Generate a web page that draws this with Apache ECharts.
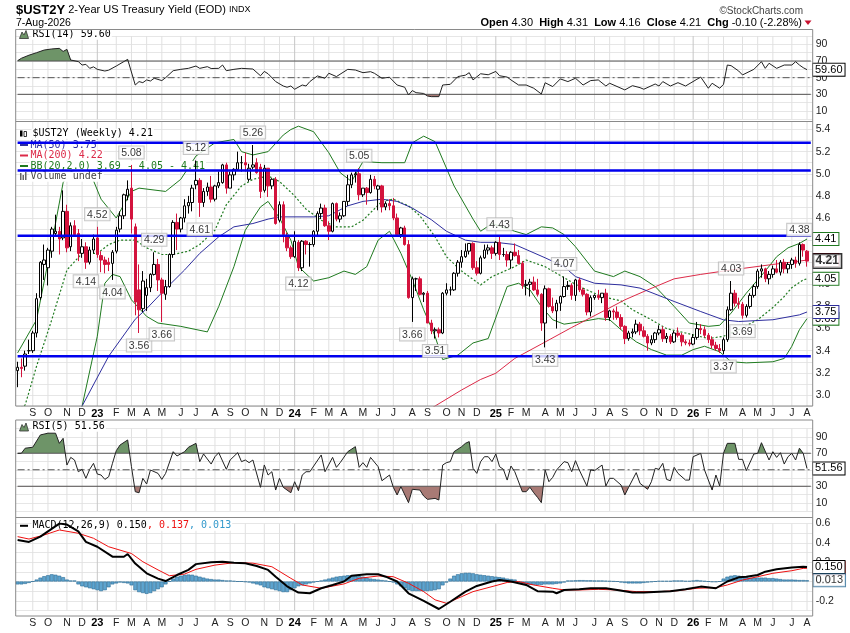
<!DOCTYPE html>
<html><head><meta charset="utf-8">
<script src="https://cdn.jsdelivr.net/npm/echarts@6/dist/echarts.min.js"></script>
<style>html,body{margin:0;padding:0;background:#fff}#c{width:850px;height:633px}</style>
</head><body><div id="c"></div>
<script>
// ---------- DATA ----------
const monthLetters = ['J','F','M','A','M','J','J','A','S','O','N','D'];
// weekly bars [open, high, low, close]
const ohlc2022 = [
[3.22,3.30,3.07,3.25],[3.25,3.33,3.16,3.24],[3.26,3.40,3.22,3.37],[3.40,3.50,3.37,3.40],[3.40,3.58,3.38,3.56],
[3.56,3.92,3.52,3.87],[3.88,4.21,3.86,4.20],[4.18,4.36,4.04,4.22],[4.15,4.33,3.99,4.31],[4.30,4.52,4.24,4.50],
[4.46,4.63,4.43,4.48],[4.48,4.52,4.27,4.41],[4.42,4.85,4.40,4.66],[4.66,4.72,4.29,4.33],[4.34,4.56,4.30,4.53],
[4.53,4.58,4.44,4.45],[4.46,4.50,4.21,4.28],[4.28,4.41,4.24,4.34],[4.34,4.38,4.14,4.20],[4.20,4.34,4.18,4.31],
[4.31,4.45,4.28,4.41]];
const ohlc2023 = [
[4.42,4.52,4.24,4.27],[4.26,4.30,4.11,4.22],[4.22,4.25,4.10,4.18],[4.20,4.24,4.12,4.18],[4.19,4.31,4.04,4.29],
[4.30,4.52,4.28,4.49],[4.50,4.66,4.47,4.62],[4.62,4.82,4.59,4.81],[4.80,4.94,4.76,4.86],[4.87,5.08,4.46,4.59],
[4.52,4.55,3.72,3.84],[3.95,4.18,3.56,3.77],[3.78,4.12,3.75,4.03],[3.90,4.05,3.76,3.97],[3.97,4.10,3.93,4.09],
[4.09,4.29,4.08,4.18],[4.18,4.23,3.94,4.04],[4.04,4.06,3.66,3.92],[3.91,4.04,3.86,3.98],[3.98,4.28,3.97,4.27],
[4.27,4.58,4.24,4.56],[4.56,4.64,4.31,4.50],[4.50,4.61,4.47,4.60],[4.60,4.77,4.56,4.71],[4.71,4.80,4.64,4.74],
[4.74,4.90,4.66,4.87],[4.90,5.12,4.86,4.94],[4.94,4.96,4.61,4.74],[4.74,4.87,4.70,4.84],[4.84,4.92,4.80,4.88],
[4.88,4.98,4.74,4.77],[4.77,4.90,4.75,4.89],[4.89,5.02,4.87,4.92],[4.92,5.09,4.91,5.08],[5.08,5.10,4.82,4.87],
[4.87,5.02,4.87,4.99],[4.99,5.05,4.94,5.04],[5.04,5.20,5.03,5.10],[5.10,5.16,5.02,5.10],[5.10,5.19,5.02,5.08],
[4.95,5.09,4.93,5.05],[5.06,5.26,5.04,5.08],[5.10,5.14,5.00,5.01],[5.06,5.09,4.78,4.84],[4.85,5.08,4.83,5.05],
[5.05,5.05,4.79,4.89],[4.89,4.96,4.86,4.95],[4.95,4.97,4.54,4.55],[4.58,4.75,4.56,4.72],[4.72,4.75,4.38,4.45],
[4.44,4.47,4.30,4.33],[4.33,4.35,4.23,4.25]];
const ohlc2024 = [
[4.25,4.48,4.24,4.39],[4.38,4.40,4.12,4.15],[4.15,4.40,4.12,4.39],[4.39,4.40,4.27,4.36],[4.36,4.38,4.16,4.36],
[4.36,4.49,4.34,4.48],[4.48,4.66,4.44,4.64],[4.64,4.73,4.59,4.69],[4.69,4.72,4.52,4.53],[4.53,4.57,4.40,4.48],
[4.48,4.74,4.47,4.73],[4.73,4.74,4.57,4.59],[4.59,4.65,4.56,4.62],[4.62,4.75,4.61,4.75],[4.75,4.99,4.71,4.90],
[4.90,5.01,4.87,4.99],[4.99,5.02,4.92,5.00],[5.00,5.05,4.76,4.81],[4.81,4.87,4.79,4.87],[4.87,4.88,4.72,4.83],
[4.83,4.99,4.82,4.95],[4.95,4.98,4.86,4.89],[4.86,4.90,4.67,4.89],[4.89,4.90,4.65,4.70],[4.70,4.75,4.67,4.73],
[4.73,4.77,4.67,4.71],[4.71,4.78,4.58,4.60],[4.60,4.64,4.44,4.45],[4.45,4.52,4.42,4.51],[4.51,4.53,4.35,4.36],
[4.36,4.40,3.87,3.88],[3.88,4.07,3.66,4.05],[4.05,4.06,3.94,4.05],[4.05,4.07,3.90,3.91],[3.91,3.93,3.84,3.92],
[3.92,3.94,3.65,3.65],[3.65,3.68,3.55,3.58],[3.58,3.61,3.51,3.59],[3.59,3.61,3.52,3.56],[3.56,3.93,3.55,3.92],
[3.92,4.01,3.90,3.95],[3.95,3.98,3.90,3.95],[3.95,4.11,3.94,4.10],[4.10,4.22,4.07,4.20],[4.20,4.31,4.15,4.25],
[4.25,4.37,4.24,4.30],[4.30,4.37,4.27,4.37],[4.37,4.38,4.13,4.15],[4.15,4.21,4.08,4.10],[4.10,4.26,4.09,4.24],
[4.24,4.36,4.23,4.31],[4.31,4.36,4.27,4.33],[4.33,4.35,4.23,4.28]];
const ohlc2025 = [
[4.28,4.39,4.26,4.38],[4.38,4.43,4.22,4.27],[4.27,4.33,4.25,4.27],[4.27,4.30,4.16,4.22],[4.22,4.30,4.14,4.29],
[4.29,4.37,4.25,4.26],[4.26,4.31,4.18,4.19],[4.19,4.21,3.96,3.99],[3.99,4.04,3.90,4.00],[4.00,4.05,3.89,4.02],
[4.02,4.07,3.94,3.95],[3.95,4.05,3.89,3.91],[3.91,3.92,3.58,3.65],[3.65,3.99,3.43,3.96],[3.96,3.97,3.79,3.80],
[3.80,3.88,3.74,3.76],[3.76,3.86,3.60,3.83],[3.83,3.90,3.76,3.89],[3.89,4.07,3.88,3.98],[3.98,4.03,3.95,3.99],
[3.99,4.01,3.86,3.90],[3.90,4.05,3.85,4.04],[4.04,4.06,3.93,3.95],[3.95,3.97,3.89,3.91],[3.91,3.92,3.72,3.75],
[3.75,3.90,3.71,3.88],[3.88,3.91,3.86,3.90],[3.90,3.95,3.86,3.88],[3.88,3.92,3.83,3.92],[3.92,3.96,3.67,3.70],
[3.70,3.77,3.67,3.76],[3.76,3.78,3.68,3.75],[3.75,3.80,3.68,3.70],[3.70,3.73,3.59,3.62],[3.62,3.63,3.46,3.51],
[3.51,3.58,3.49,3.56],[3.56,3.60,3.52,3.57],[3.57,3.68,3.55,3.64],[3.64,3.66,3.54,3.58],[3.58,3.62,3.52,3.53],
[3.53,3.55,3.40,3.47],[3.47,3.54,3.45,3.50],[3.50,3.57,3.47,3.56],[3.56,3.63,3.54,3.59],[3.59,3.62,3.48,3.51],
[3.51,3.56,3.47,3.53],[3.53,3.55,3.46,3.48],[3.48,3.58,3.47,3.56],[3.56,3.61,3.52,3.54],[3.54,3.56,3.44,3.48],
[3.48,3.50,3.45,3.47],[3.47,3.50,3.44,3.46]];
const ohlc2026 = [
[3.46,3.55,3.45,3.52],[3.52,3.66,3.50,3.60],[3.60,3.64,3.55,3.59],[3.59,3.62,3.52,3.54],[3.54,3.56,3.47,3.50],
[3.50,3.53,3.42,3.45],[3.45,3.48,3.40,3.42],[3.42,3.46,3.38,3.40],[3.40,3.52,3.37,3.50],[3.50,3.80,3.48,3.77],
[3.77,4.03,3.76,3.92],[3.92,3.95,3.80,3.83],[3.83,3.88,3.78,3.82],[3.82,3.84,3.69,3.72],[3.72,3.82,3.70,3.80],
[3.80,3.92,3.78,3.90],[3.90,4.00,3.88,3.98],[3.98,4.14,3.96,4.12],[4.12,4.18,4.06,4.14],[4.14,4.15,4.02,4.05],
[4.05,4.12,4.00,4.09],[4.09,4.17,4.06,4.14],[4.14,4.22,4.10,4.11],[4.11,4.22,4.08,4.20],[4.20,4.23,4.10,4.14],
[4.14,4.20,4.10,4.18],[4.18,4.24,4.14,4.22],[4.22,4.25,4.15,4.19],[4.19,4.38,4.17,4.36],[4.36,4.37,4.25,4.31],
[4.30,4.31,4.16,4.21]];

// indicator lines: [week index, value]
const ma50Pts = [[14,2.71],[17,2.90],[24,3.35],[31,3.685],[34,3.78],[39,3.96],[44,4.13],[48,4.28],[53,4.43],[57,4.52],[62,4.55],[66,4.59],[69,4.61],[78,4.61],[82,4.62],[87,4.71],[91,4.75],[96,4.77],[100,4.75],[104,4.69],[109,4.585],[113,4.48],[118,4.40],[122,4.38],[126,4.38],[131,4.36],[135,4.30],[139,4.24],[144,4.16],[147,4.07],[152,4.01],[159,3.995],[164,3.966],[173,3.845],[180,3.754],[186,3.679],[190,3.664],[199,3.68],[206,3.724],[208,3.75]];
const ma200Pts = [[106,2.815],[110,2.90],[117,3.045],[122,3.14],[126,3.196],[131,3.33],[138,3.46],[146,3.61],[155,3.77],[160,3.86],[166,3.95],[173,4.05],[180,4.09],[188,4.13],[199,4.18],[206,4.21],[208,4.22]];
const bbUpperPts = [[0,3.38],[5,3.68],[9,4.37],[12,4.92],[14,5.02],[17,5.05],[19,5.02],[22,4.77],[26,4.60],[27,4.66],[30,4.84],[32,4.87],[39,4.84],[43,4.95],[47,5.16],[52,5.28],[57,5.31],[59,5.20],[62,5.17],[66,5.20],[70,5.35],[72,5.40],[74,5.43],[78,5.38],[82,5.19],[85,5.01],[88,4.93],[91,5.11],[96,5.10],[102,5.10],[104,5.28],[107,5.34],[110,5.29],[115,4.89],[120,4.59],[122,4.48],[125,4.55],[131,4.48],[134,4.45],[138,4.52],[141,4.51],[144,4.45],[147,4.34],[152,4.12],[157,4.07],[160,4.12],[164,4.07],[168,3.98],[173,3.80],[177,3.65],[182,3.62],[185,3.63],[188,3.74],[192,3.92],[197,4.12],[200,4.25],[203,4.33],[206,4.37],[208,4.41]];
const bbMidPts = [[0,2.86],[2,2.91],[5,3.26],[9,3.68],[13,4.13],[17,4.28],[21,4.28],[24,4.36],[27,4.40],[31,4.40],[34,4.33],[38,4.27],[41,4.27],[45,4.30],[48,4.36],[52,4.49],[55,4.72],[59,4.89],[62,4.95],[66,4.98],[69,4.93],[73,4.80],[76,4.68],[80,4.58],[84,4.52],[88,4.52],[91,4.58],[96,4.75],[99,4.77],[103,4.71],[106,4.62],[110,4.43],[113,4.25],[117,4.12],[122,3.995],[125,4.07],[131,4.16],[134,4.22],[139,4.16],[143,4.08],[148,3.98],[154,3.89],[159,3.85],[162,3.77],[167,3.68],[171,3.60],[176,3.56],[182,3.51],[186,3.53],[190,3.59],[195,3.68],[199,3.79],[202,3.89],[204,3.97],[207,4.04],[208,4.05]];
const bbLowerPts = [[15,2.57],[17,2.90],[21,3.53],[23,4.01],[25,4.09],[27,4.07],[30,3.86],[34,3.71],[37,3.65],[43,3.62],[50,3.57],[53,3.80],[57,4.16],[60,4.49],[64,4.70],[66,4.75],[69,4.60],[72,4.40],[74,4.16],[78,4.03],[82,4.06],[86,4.12],[89,4.09],[92,4.16],[95,4.40],[98,4.48],[101,4.28],[104,4.04],[107,3.77],[110,3.53],[112,3.32],[116,3.36],[120,3.47],[124,3.51],[129,3.98],[132,4.01],[135,3.95],[138,3.80],[141,3.68],[144,3.64],[148,3.66],[153,3.69],[156,3.68],[160,3.56],[163,3.48],[167,3.41],[171,3.36],[175,3.36],[178,3.41],[181,3.44],[185,3.39],[188,3.30],[192,3.29],[199,3.30],[202,3.33],[204,3.44],[206,3.59],[208,3.69]];
const rsi14Pts = [[0,70.4],[1,73.3],[3,77],[5,80],[7,83.2],[9,84.5],[11,85.2],[12,81.5],[13,84],[14,71.2],[16,69.3],[17,65.2],[18,66],[19,61.2],[20,63],[21,60],[23,58],[24,59],[26,64],[29,72],[31,41.2],[32,45.3],[33,44],[34,47.3],[35,46],[36,49.3],[38,46.5],[39,50],[41,58.4],[43,60],[45,61.2],[47,64],[48,61.2],[50,63.2],[51,61],[53,61.2],[54,65.2],[55,58.4],[57,60],[59,61.2],[62,60.4],[64,52.3],[65,57.5],[66,54.7],[68,45.3],[70,40],[71,38.5],[72,40],[73,36.1],[75,41.2],[76,40],[77,45.3],[79,52.1],[81,49.3],[82,55.3],[84,51.3],[87,60],[89,59.2],[91,56],[93,57.2],[94,55.3],[96,49.3],[98,50.5],[100,41.2],[102,38.5],[103,29.2],[104,34.5],[105,32],[107,31],[108,28],[109,27.2],[111,27.2],[112,41.2],[114,42],[116,51.3],[118,53],[119,56],[120,47.3],[122,54.7],[124,53.5],[126,57.5],[127,52.3],[129,50.7],[130,47.3],[132,41.2],[134,41.2],[136,37.3],[138,30.4],[139,43.9],[141,39.3],[143,48.5],[145,45.3],[147,49.3],[149,41.2],[151,46.5],[153,47.3],[155,40],[156,43.3],[160,35.3],[162,40.4],[164,38],[165,36.1],[168,42.4],[169,40],[170,45.3],[172,40],[174,44],[176,40],[179,48.1],[180,50.7],[182,37.3],[183,43.3],[185,37.3],[186,42],[187,65.2],[188,64.4],[190,58],[191,53.3],[194,60],[196,69.2],[197,61.2],[198,67.3],[200,61.2],[202,65.2],[204,65.2],[205,69.2],[206,65.2],[207,62],[208,59.6]];
const rsi5Pts = [[0,69.9],[1,70],[2,76.1],[4,77.3],[6,92.2],[8,94.3],[10,94.3],[11,82],[12,88.1],[13,55.7],[14,65],[15,61.8],[16,47.6],[17,50.5],[18,39.6],[19,50.5],[20,57.8],[21,44.8],[22,43.6],[23,38.3],[24,41.5],[25,57.8],[26,73.1],[27,80],[29,86.1],[30,53.7],[31,23.4],[32,22.1],[33,39.6],[34,32.7],[35,49.7],[37,45.6],[38,38.3],[39,45.6],[41,71.9],[42,66.7],[44,71.9],[45,77.2],[47,82],[48,59.8],[49,69.1],[51,56.9],[52,65.8],[53,70.7],[55,50.5],[56,61.8],[58,70.7],[59,59.8],[60,61.8],[61,58.6],[62,61.8],[64,28.7],[65,55.8],[66,43.6],[67,47.6],[68,25.4],[69,39.6],[70,28.7],[72,22.1],[73,35.5],[74,24.6],[75,43.6],[76,47.6],[77,47.6],[80,67.9],[81,47.6],[83,65],[84,52.9],[85,58.6],[87,71.9],[89,78],[90,52.9],[91,58.6],[92,52.9],[93,65],[95,53.7],[96,36.7],[98,43.6],[99,28.7],[100,19.4],[101,29.5],[103,10.1],[104,26.3],[106,25.4],[107,18.1],[108,14.1],[110,15.3],[111,13.3],[112,55.7],[113,58.6],[114,59.8],[115,71.9],[117,78],[118,82],[119,84.1],[120,51.7],[121,45.6],[122,59.8],[123,65.8],[124,65.8],[125,59.8],[126,69.1],[127,53.7],[128,50.5],[129,37.5],[130,54.5],[131,47.6],[133,23.4],[134,23.4],[135,28.7],[136,22.1],[137,16.5],[138,10.1],[139,49.7],[140,35.5],[141,40.8],[142,49.7],[144,59.8],[145,58.6],[146,47.6],[147,61],[148,49.7],[150,30.3],[151,49.7],[152,48.9],[154,55.7],[155,30.3],[156,39.6],[157,39.6],[159,31.5],[160,19.4],[161,28.7],[163,46.5],[164,33.5],[166,26.3],[167,35.5],[168,51.7],[169,50.5],[170,57.8],[171,38.3],[172,36.7],[173,52.9],[174,45.6],[176,37.5],[177,37.5],[178,65.8],[180,69.9],[181,49.7],[183,25.4],[184,43.6],[185,30.3],[186,69.9],[187,82],[189,82],[190,62.6],[191,62.6],[192,48.9],[194,69.1],[195,69.9],[196,82.8],[198,61.8],[199,71.9],[200,65],[201,70.7],[202,56.9],[203,65.8],[204,69.9],[205,61.8],[206,76.1],[207,69.9],[208,51.56]];
const macdPts = [[0,0.43],[3,0.41],[6,0.465],[8,0.52],[11,0.6],[13,0.59],[16,0.52],[18,0.41],[21,0.36],[25,0.257],[28,0.257],[29,0.285],[31,0.186],[34,0.085],[37,0.03],[39,0.005],[42,0.067],[45,0.12],[47,0.18],[51,0.2],[54,0.205],[57,0.195],[60,0.19],[63,0.16],[66,0.12],[68,0.05],[71,-0.05],[74,-0.115],[77,-0.122],[80,-0.07],[83,-0.036],[86,0],[88,0.06],[92,0.075],[95,0.075],[97,0.05],[100,0],[103,-0.122],[107,-0.2],[111,-0.285],[114,-0.21],[118,-0.105],[121,-0.046],[125,0],[127,0.015],[130,0],[134,-0.036],[137,-0.1],[141,-0.105],[142,-0.122],[144,-0.088],[148,-0.081],[151,-0.07],[155,-0.07],[158,-0.088],[162,-0.115],[165,-0.115],[169,-0.105],[172,-0.1],[176,-0.081],[180,-0.053],[184,-0.07],[187,0],[190,0.043],[192,0.05],[195,0.067],[197,0.102],[200,0.126],[204,0.146],[207,0.153],[208,0.150]];
const signalPts = [[0,0.465],[3,0.44],[7,0.482],[11,0.534],[16,0.5],[20,0.448],[24,0.36],[30,0.29],[33,0.205],[37,0.12],[40,0.06],[44,0.077],[47,0.126],[52,0.17],[57,0.195],[62,0.19],[67,0.153],[72,0.033],[75,-0.036],[80,-0.07],[86,-0.025],[90,0.033],[95,0.057],[99,0.05],[103,-0.018],[107,-0.105],[110,-0.19],[113,-0.226],[117,-0.157],[120,-0.105],[125,-0.053],[129,-0.01],[132,0],[136,-0.036],[141,-0.07],[144,-0.088],[148,-0.088],[153,-0.081],[158,-0.088],[163,-0.105],[169,-0.105],[174,-0.095],[179,-0.07],[184,-0.064],[187,-0.036],[191,0.015],[195,0.05],[199,0.085],[204,0.112],[207,0.136],[208,0.137]];
const histogram = [
-0.03,-0.03,-0.025,-0.015,0.0,0.02,0.04,0.055,0.065,0.075,
0.07,0.06,0.045,0.02,0.01,0.01,-0.03,-0.05,-0.06,-0.07,
-0.08,-0.09,-0.1,-0.09,-0.06,-0.03,-0.02,-0.01,-0.015,-0.02,
-0.04,-0.09,-0.11,-0.12,-0.128,-0.12,-0.1,-0.08,-0.06,-0.03,
0.0,0.03,0.05,0.06,0.07,0.072,0.07,0.06,0.05,0.04,
0.03,0.025,0.02,0.02,0.015,0.01,0.01,0.005,0.0,0.0,
-0.005,-0.01,-0.02,-0.03,-0.04,-0.06,-0.07,-0.08,-0.09,-0.1,
-0.11,-0.11,-0.09,-0.07,-0.05,-0.04,-0.03,-0.02,-0.01,0.0,
0.01,0.02,0.03,0.04,0.05,0.055,0.06,0.065,0.065,0.06,
0.055,0.05,0.04,0.03,0.025,0.02,0.015,0.01,0.0,-0.01,
-0.03,-0.05,-0.07,-0.09,-0.1,-0.1,-0.1,-0.1,-0.1,-0.095,
-0.09,-0.08,-0.04,-0.01,0.03,0.06,0.075,0.085,0.09,0.09,
0.085,0.075,0.07,0.065,0.06,0.055,0.05,0.045,0.04,0.03,
0.025,0.02,-0.01,-0.02,-0.03,-0.035,-0.035,-0.035,-0.035,-0.03,
-0.03,-0.03,-0.025,-0.02,-0.01,0.01,0.01,0.012,0.014,0.014,
0.012,0.012,0.01,0.01,0.01,0.008,0.005,0.002,0.0,-0.01,
-0.015,-0.02,-0.02,-0.02,-0.02,-0.015,-0.01,-0.005,0.0,0.005,
0.005,0.005,0.005,0.01,0.01,0.01,0.005,0.005,0.01,0.015,
0.01,0.005,0.0,-0.005,-0.005,0.0,0.03,0.05,0.06,0.065,
0.06,0.05,0.045,0.04,0.04,0.04,0.04,0.04,0.035,0.035,
0.03,0.025,0.02,0.02,0.02,0.018,0.015,0.015,0.013];
const hLines = [5.28, 5.03, 4.44, 3.35];
const rsiLevels = [70, 50, 30];
const peakHighs = [[21,4.52],[30,5.08],[36,4.29],[47,5.12],[62,5.26],[90,5.05],[127,4.43],[144,4.07],[188,4.03],[206,4.38]];
const peakLows = [[18,4.14],[25,4.04],[32,3.56],[38,3.66],[48,4.61],[74,4.12],[104,3.66],[110,3.51],[139,3.43],[186,3.37],[191,3.69]];

// ---------- BUILD ----------
const ohlc = [].concat(ohlc2022, ohlc2023, ohlc2024, ohlc2025, ohlc2026);
const nBars = ohlc.length;
const categories = [], tickLabels = [];
const start = Date.UTC(2022, 7, 8);
for (let i = 0; i < nBars + 1; i++) {
  const d = new Date(start + i * 7 * 86400000);
  categories.push(d.toISOString().slice(0, 10));
  if (d.getUTCDate() <= 7) tickLabels.push(d.getUTCMonth() === 0 ? String(d.getUTCFullYear() % 100) : monthLetters[d.getUTCMonth()]);
  else tickLabels.push('');
}
const monthIdx = [];
tickLabels.forEach((t, i) => { if (t) monthIdx.push(i); });
const candleData = ohlc.map(r => [r[0], r[3], r[2], r[1]]);
const last = ohlc[nBars - 1];

const FONT = '"Liberation Sans", Arial, sans-serif';
const MONO = '"DejaVu Sans Mono", monospace';
const L = 15.7, R = 37.3;

function xAx(gi, show, margin) {
  return {type: 'category', gridIndex: gi, data: categories, boundaryGap: true,
    axisLine: {show: false}, axisTick: {show: false}, splitLine: {show: false},
    axisLabel: {show: show, interval: (idx) => tickLabels[idx] !== '', margin: margin,
      formatter: (v, idx) => /^\d+$/.test(tickLabels[idx]) ? '{y|' + tickLabels[idx] + '}' : tickLabels[idx],
      color: '#222', fontSize: 10.5, fontFamily: FONT,
      rich: {y: {fontWeight: 'bold', fontSize: 11, fontFamily: FONT, color: '#000'}}}};
}
function evenTenths(v) {
  const t = Math.round(v * 10);
  if (Math.abs(v * 10 - t) > 1e-6 || t % 2 !== 0) return '';
  return (t / 10).toFixed(1);
}
function yAx(gi, min, max, interval, fmt) {
  return {type: 'value', gridIndex: gi, position: 'right', min, max, interval,
    axisLine: {show: false}, axisTick: {show: false},
    splitLine: {show: true, lineStyle: {color: '#e6e6e6', width: 1}},
    axisLabel: {formatter: fmt, color: '#222', fontSize: 10.5, fontFamily: FONT, margin: 3}};
}
function vLineSeries(gi) {
  const lo = gi === 1 ? 2.9 : gi === 3 ? -0.3 : 0;
  const hi = gi === 1 ? 5.4725 : gi === 3 ? 0.6 : 100;
  return monthIdx.map(i => ({type: 'line', xAxisIndex: gi, yAxisIndex: gi, z: 1, silent: true, symbol: 'none', showSymbol: false,
    data: [[i, lo], [i, hi]], lineStyle: {color: /^\d+$/.test(tickLabels[i]) ? '#c6c6c6' : '#e0e0e0', width: 1}}));
}
function tag(border, bold, digits) {
  return {show: true, formatter: p => (Array.isArray(p.value) ? p.value[1] : p.value).toFixed(digits),
    color: '#000', fontFamily: FONT, fontSize: 11, fontWeight: bold ? 'bold' : 'normal',
    backgroundColor: '#fff', borderColor: border, borderWidth: bold ? 1.5 : 1, padding: [1, 2, 0, 2], distance: 6};
}
function lineS(gi, data, color, width, extra) {
  return Object.assign({type: 'line', xAxisIndex: gi, yAxisIndex: gi, data: data, showSymbol: false, symbol: 'none',
    silent: true, z: 2, lineStyle: {color: color, width: width}, itemStyle: {color: color}}, extra || {});
}
function shade(gi, data, origin) {
  return {type: 'line', xAxisIndex: gi, yAxisIndex: gi, data: data, showSymbol: false, symbol: 'none', silent: true, z: 2,
    lineStyle: {width: 0, opacity: 0}, areaStyle: {origin: origin, opacity: 1}};
}
function levelLines(gi) {
  return rsiLevels.map(v => ({type: 'line', xAxisIndex: gi, yAxisIndex: gi, z: 2.5, silent: true, symbol: 'none', showSymbol: false,
    data: [[0, v], [nBars, v]], lineStyle: {color: '#555', width: 1, type: v === 50 ? [7, 3, 2, 3] : 'solid'}}));
}
const GREEN = '#1f7a1f', NAVY = '#2e2e9e', RED = '#dc2a48';

const series = [];
const idx = {};
function add(name, s) { if (Array.isArray(s)) { s.forEach(x => series.push(x)); } else { idx[name] = series.length; series.push(s); } }

add('v0', vLineSeries(0));
add('r14a', shade(0, rsi14Pts, 70));
add('r14b', shade(0, rsi14Pts, 30));
add('lv0', levelLines(0));
add('r14', lineS(0, rsi14Pts, '#222', 1, {z: 3, endLabel: tag('#000', false, 2)}));
add('v1', vLineSeries(1));
add('bbu', lineS(1, bbUpperPts, GREEN, 1, {endLabel: tag(GREEN, false, 2)}));
add('bbm', lineS(1, bbMidPts, GREEN, 1.2, {lineStyle: {color: GREEN, width: 1.2, type: [2, 2]}, endLabel: tag(GREEN, false, 2)}));
add('bbl', lineS(1, bbLowerPts, GREEN, 1, {endLabel: tag(GREEN, false, 2)}));
add('ma200', lineS(1, ma200Pts, RED, 1, {endLabel: tag(RED, false, 2)}));
add('ma50', lineS(1, ma50Pts, NAVY, 1, {z: 2.5, endLabel: tag(NAVY, false, 2)}));
add('candle', {type: 'candlestick', xAxisIndex: 1, yAxisIndex: 1, data: candleData, barWidth: 3, z: 5, silent: true,
    itemStyle: {color: '#ffffff', color0: '#d3133d', borderColor: '#000', borderColor0: '#d3133d', borderWidth: 1}});
add('hl', hLines.map(v => ({type: 'line', xAxisIndex: 1, yAxisIndex: 1, z: 5.5, silent: true, symbol: 'none', showSymbol: false,
    data: [[0, v], [nBars, v]], lineStyle: {color: '#0000ee', width: 2.6}})));
add('peaks', {type: 'scatter', xAxisIndex: 1, yAxisIndex: 1, symbolSize: 1, z: 6, silent: true, itemStyle: {color: 'rgba(0,0,0,0)'},
    data: peakHighs.map(p => ({value: p, label: {position: 'top'}})).concat(peakLows.map(p => ({value: p, label: {position: 'bottom'}}))),
    label: {show: true, formatter: p => p.value[1].toFixed(2), distance: 6, fontSize: 10.5, fontFamily: FONT, color: '#000',
      backgroundColor: '#fff', borderColor: '#b8b8b8', borderWidth: 1, padding: [1, 2, 0, 2]}});
add('closeTag', {type: 'scatter', xAxisIndex: 1, yAxisIndex: 1, symbolSize: 1, z: 7, silent: true, itemStyle: {color: 'rgba(0,0,0,0)'},
    data: [[nBars - 1, last[3]]], label: Object.assign(tag('#000', true, 2), {position: 'right', fontSize: 12})});
add('v2', vLineSeries(2));
add('r5a', shade(2, rsi5Pts, 70));
add('r5b', shade(2, rsi5Pts, 30));
add('lv2', levelLines(2));
add('r5', lineS(2, rsi5Pts, '#222', 1, {z: 3, endLabel: tag('#000', false, 2)}));
add('v3', vLineSeries(3));
add('hist', {type: 'bar', xAxisIndex: 3, yAxisIndex: 3, data: histogram, barCategoryGap: '0%', z: 2, silent: true,
    itemStyle: {color: '#5ea4cf', borderColor: '#2c6c96', borderWidth: 0.6}});
add('sig', lineS(3, signalPts, '#ee1111', 1, {z: 3, endLabel: tag('#ee1111', false, 3)}));
add('macd', lineS(3, macdPts, '#000', 2, {z: 4, endLabel: tag('#000', false, 3)}));
add('histTag', {type: 'scatter', xAxisIndex: 3, yAxisIndex: 3, symbolSize: 1, z: 6, silent: true, itemStyle: {color: 'rgba(0,0,0,0)'},
    data: [[nBars - 1, histogram[nBars - 1]]], label: Object.assign(tag('#2c6c96', false, 3), {position: 'right'})});

const CLEAR = 'rgba(255,255,255,0)';
const above = (si) => ({type: 'piecewise', show: false, seriesIndex: si, dimension: 1, min: 0, max: 100,
  pieces: [{gt: 70, lte: 100, color: '#6e9468'}, {gte: 0, lte: 70, color: CLEAR}], outOfRange: {color: CLEAR}});
const below = (si) => ({type: 'piecewise', show: false, seriesIndex: si, dimension: 1, min: 0, max: 100,
  pieces: [{gte: 0, lt: 30, color: '#a87a75'}, {gte: 30, lte: 100, color: CLEAR}], outOfRange: {color: CLEAR}});

function txt(x, y, text, font, fill, extra) {
  return {type: 'text', x: x, y: y, z: 3, silent: true,
    style: Object.assign({text: text, font: font, fill: fill, align: 'left', verticalAlign: 'middle'}, (extra || {}))};
}
function frame(y1, y2) {
  return {type: 'rect', z: 20, silent: true, shape: {x: 15.7, y: y1, width: 797, height: y2 - y1},
    style: {fill: 'none', stroke: '#8a8a8a', lineWidth: 1}};
}
const f2 = v => v.toFixed(2);
const legendBg = {backgroundColor: '#fff', padding: [0, 1]};
const graphic = [
  frame(29.5, 121.5), frame(121.5, 406), frame(420, 517.5), frame(517.5, 616),
  txt(16, 10, '{a|$UST2Y} {b|2-Year US Treasury Yield (EOD)} {c|INDX}', '11px ' + FONT, '#000',
    {rich: {a: {font: 'bold 13px ' + FONT, fill: '#000'}, b: {font: '11px ' + FONT, fill: '#000'}, c: {font: '9px ' + FONT, fill: '#000'}}}),
  txt(16, 22.7, '7-Aug-2026', '10.5px ' + FONT, '#000'),
  txt(803, 11.5, '\u00A9StockCharts.com', '10px ' + FONT, '#444', {align: 'right'}),
  txt(802, 22.7, '{k|Open} {v|' + f2(last[0]) + '}  {k|High} {v|' + f2(last[1]) + '}  {k|Low} {v|' + f2(last[2]) +
    '}  {k|Close} {v|' + f2(last[3]) + '}  {k|Chg} {v|-0.10 (-2.28%)}', '11px ' + FONT, '#000',
    {align: 'right', rich: {k: {font: 'bold 11px ' + FONT, fill: '#000'}, v: {font: '11px ' + FONT, fill: '#000'}}}),
  {type: 'polygon', z: 3, silent: true, shape: {points: [[804.5, 20.5], [811.5, 20.5], [808, 25]]}, style: {fill: '#c8102e'}},
  {type: 'polygon', z: 3, silent: true, shape: {points: [[19.5, 38.5], [22, 32], [24, 35], [26, 30.5], [28.5, 38.5]]}, style: {fill: '#6e9468', stroke: '#333', lineWidth: 0.8}},
  txt(31.5, 34.8, 'RSI(14) 59.60', '10px ' + MONO, '#000', legendBg),
  {type: 'rect', z: 3, silent: true, shape: {x: 20, y: 130.5, width: 2.5, height: 6}, style: {fill: '#000'}},
  {type: 'rect', z: 3, silent: true, shape: {x: 24, y: 131.5, width: 2.5, height: 5}, style: {fill: '#fff', stroke: '#000', lineWidth: 0.8}},
  txt(31.5, 133.8, '$UST2Y (Weekly) 4.21', '10px ' + MONO, '#000', legendBg),
  {type: 'line', z: 3, silent: true, shape: {x1: 20, y1: 145, x2: 28, y2: 145}, style: {stroke: NAVY, lineWidth: 2}},
  txt(29.5, 145, 'MA(50) 3.75', '10px ' + MONO, NAVY, legendBg),
  {type: 'line', z: 3, silent: true, shape: {x1: 20, y1: 155.5, x2: 28, y2: 155.5}, style: {stroke: RED, lineWidth: 2}},
  txt(29.5, 155.5, 'MA(200) 4.22', '10px ' + MONO, RED, legendBg),
  {type: 'line', z: 3, silent: true, shape: {x1: 20, y1: 166, x2: 28, y2: 166}, style: {stroke: GREEN, lineWidth: 2}},
  txt(29.5, 166, 'BB(20,2.0) 3.69 - 4.05 - 4.41', '10px ' + MONO, GREEN, legendBg),
  {type: 'rect', z: 3, silent: true, shape: {x: 20, y: 173, width: 1.5, height: 7}, style: {fill: '#666'}},
  {type: 'rect', z: 3, silent: true, shape: {x: 22.5, y: 175, width: 1.5, height: 5}, style: {fill: '#666'}},
  {type: 'rect', z: 3, silent: true, shape: {x: 25, y: 172, width: 1.5, height: 8}, style: {fill: '#666'}},
  txt(29.5, 176.7, 'Volume undef', '10px ' + MONO, '#444', legendBg),
  {type: 'polygon', z: 3, silent: true, shape: {points: [[19.5, 431], [22, 424.5], [24, 427.5], [26, 423], [28.5, 431]]}, style: {fill: '#6e9468', stroke: '#333', lineWidth: 0.8}},
  txt(31.5, 426.8, 'RSI(5) 51.56', '10px ' + MONO, '#000', legendBg),
  {type: 'line', z: 3, silent: true, shape: {x1: 20, y1: 525.8, x2: 28, y2: 525.8}, style: {stroke: '#000', lineWidth: 2}},
  txt(31.5, 525.8, '{k|MACD(12,26,9) 0.150}{r|, 0.137}{b|, 0.013}', '10px ' + MONO, '#000',
    {backgroundColor: '#fff', padding: [0, 1], rich: {k: {font: '10px ' + MONO, fill: '#000'}, r: {font: '10px ' + MONO, fill: '#ee1111'}, b: {font: '10px ' + MONO, fill: '#3399cc'}}})
];

const chart = echarts.init(document.getElementById('c'), null, {renderer: 'canvas'});
chart.setOption({
  animation: false,
  backgroundColor: '#fff',
  grid: [
    {left: L, right: R, top: 36.05, height: 83.25},
    {left: L, right: R, top: 121.5, height: 284.5},
    {left: L, right: R, top: 428.5, height: 82.5},
    {left: L, right: R, top: 523.6, height: 86.85}
  ],
  xAxis: [xAx(0, false, 2), xAx(1, true, 2), xAx(2, false, 2), xAx(3, true, 7.5)],
  yAxis: [
    yAx(0, 0, 100, 10, v => (v % 20 === 10 ? String(v) : '')),
    yAx(1, 2.9, 5.4725, 0.1, evenTenths),
    yAx(2, 0, 100, 10, v => (v % 20 === 10 ? String(v) : '')),
    yAx(3, -0.3, 0.6, 0.1, evenTenths)
  ],
  visualMap: [above(idx.r14a), below(idx.r14b), above(idx.r5a), below(idx.r5b)],
  series: series,
  graphic: graphic
});
</script></body></html>
